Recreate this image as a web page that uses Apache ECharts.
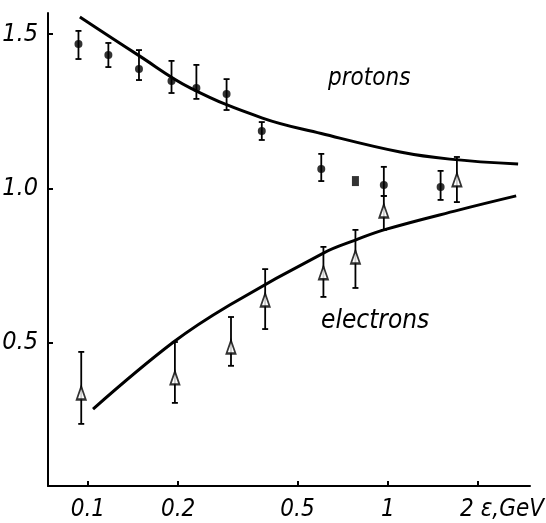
<!DOCTYPE html>
<html><head><meta charset="utf-8">
<script src="https://cdn.jsdelivr.net/npm/echarts@6/dist/echarts.min.js"></script>
<style>html,body{margin:0;padding:0;background:#fff}#c{width:546px;height:523px}</style>
</head><body><div id="c"></div>
<script>
// tick labels
const xTicks = [0.1, 0.2, 0.5, 1, 2];
const yTicks = [0.5, 1.0, 1.5];
const xUnit = 'ε,GeV';
// protons (filled circles)
const protonE  = [0.093, 0.117, 0.148, 0.19, 0.23, 0.29, 0.38, 0.6, 0.97, 1.5];
const protonR  = [1.468, 1.432, 1.387, 1.348, 1.325, 1.306, 1.186, 1.063, 1.011, 1.005];
const protonLo = [1.419, 1.393, 1.351, 1.309, 1.290, 1.254, 1.157, 1.024, 0.976, 0.963];
const protonHi = [1.510, 1.471, 1.448, 1.413, 1.400, 1.354, 1.215, 1.112, 1.070, 1.057];
// proton point drawn as a square
const protonSqE = [0.78];
const protonSqR = [1.024];
// electrons (open triangles)
const electronE  = [0.095, 0.195, 0.3, 0.39, 0.61, 0.78, 0.97, 1.7];
const electronR  = [0.338, 0.387, 0.487, 0.639, 0.727, 0.778, 0.927, 1.028];
const electronLo = [0.238, 0.306, 0.426, 0.545, 0.649, 0.678, 0.866, 0.956];
const electronHi = [0.471, 0.503, 0.584, 0.739, 0.811, 0.866, 0.976, 1.102];
// theory curves
const protonCurveE = [0.094, 0.148, 0.22, 0.382, 0.6, 1.1, 1.61, 2.72];
const protonCurveR = [1.555, 1.430, 1.325, 1.228, 1.178, 1.118, 1.095, 1.079];
const electronCurveE = [0.104, 0.193, 0.297, 0.61, 0.78, 0.97, 1.72, 2.68];
const electronCurveR = [0.286, 0.503, 0.623, 0.791, 0.833, 0.866, 0.930, 0.976];

const zip = (a, b) => a.map((v, i) => [v, b[i]]);
const zip3 = (a, b, c) => a.map((v, i) => [v, b[i], c[i]]);

const FONT = "'Liberation Sans Narrow', 'DejaVu Sans Condensed', 'Liberation Sans', sans-serif";

function errRender(params, api) {
  const x = api.value(0), lo = api.value(1), hi = api.value(2);
  const p1 = api.coord([x, lo]), p2 = api.coord([x, hi]);
  const w = 3;
  const st = { stroke: '#000', lineWidth: 1.8 };
  return { type: 'group', children: [
    { type: 'line', shape: { x1: p1[0], y1: p1[1], x2: p2[0], y2: p2[1] }, style: st },
    { type: 'line', shape: { x1: p1[0] - w, y1: p1[1], x2: p1[0] + w, y2: p1[1] }, style: st },
    { type: 'line', shape: { x1: p2[0] - w, y1: p2[1], x2: p2[0] + w, y2: p2[1] }, style: st }
  ]};
}

const lblStyle = { fontSize: 24, fontStyle: 'italic', fontFamily: FONT, color: '#000' };

const chart = echarts.init(document.getElementById('c'), null, { renderer: 'canvas' });
chart.setOption({
  animation: false,
  backgroundColor: '#fff',
  grid: { left: 48, right: 16, top: 13, bottom: 37, containLabel: false, outerBoundsMode: 'none' },
  xAxis: {
    type: 'log', logBase: 10, min: 0.0736, max: 2.98,
    axisLine: { lineStyle: { color: '#000', width: 2 } },
    axisTick: { inside: true, length: 5, customValues: xTicks, lineStyle: { color: '#000', width: 2 } },
    axisLabel: Object.assign({
      customValues: xTicks, margin: 12,
      formatter: v => v === 2 ? '{a|2 ' + xUnit + '}' : String(v),
      rich: { a: Object.assign({ padding: [0, 0, 0, 48] }, lblStyle) }
    }, lblStyle),
    splitLine: { show: false },
    minorTick: { show: false }
  },
  yAxis: {
    type: 'value', min: 0.037, max: 1.568,
    axisLine: { show: true, lineStyle: { color: '#000', width: 2 } },
    axisTick: { show: true, inside: true, length: 5, customValues: yTicks, lineStyle: { color: '#000', width: 2 } },
    axisLabel: {
      customValues: yTicks, margin: 10, color: '#000', fontSize: 25, fontStyle: 'italic', fontFamily: FONT,
      formatter: v => v.toFixed(1)
    },
    splitLine: { show: false }
  },
  graphic: [
    { type: 'text', left: 328, top: 67, style: { text: 'protons', fontSize: 24, fontStyle: 'italic', fontFamily: FONT, fill: '#000' } },
    { type: 'text', left: 321, top: 308, style: { text: 'electrons', fontSize: 26, fontStyle: 'italic', fontFamily: FONT, fill: '#000' } }
  ],
  series: [
    { type: 'line', data: zip(protonCurveE, protonCurveR), smooth: 0.4, showSymbol: false, lineStyle: { color: '#000', width: 3 }, z: 2 },
    { type: 'line', data: zip(electronCurveE, electronCurveR), smooth: 0.4, showSymbol: false, lineStyle: { color: '#000', width: 3 }, z: 2 },
    { type: 'custom', renderItem: errRender, data: zip3(protonE, protonLo, protonHi), z: 3 },
    { type: 'custom', renderItem: errRender, data: zip3(electronE, electronLo, electronHi), z: 3 },
    { type: 'scatter', data: zip(protonE, protonR), symbol: 'circle', symbolSize: 8, itemStyle: { color: '#000' }, z: 4 },
    { type: 'scatter', data: zip(protonSqE, protonSqR), symbol: 'rect', symbolSize: [7, 10], itemStyle: { color: '#000' }, z: 4 },
    { type: 'scatter', data: zip(electronE, electronR), symbol: 'triangle', symbolSize: [9, 13], itemStyle: { color: '#fff', borderColor: '#000', borderWidth: 2 }, z: 4 }
  ]
});
</script>
</body></html>
